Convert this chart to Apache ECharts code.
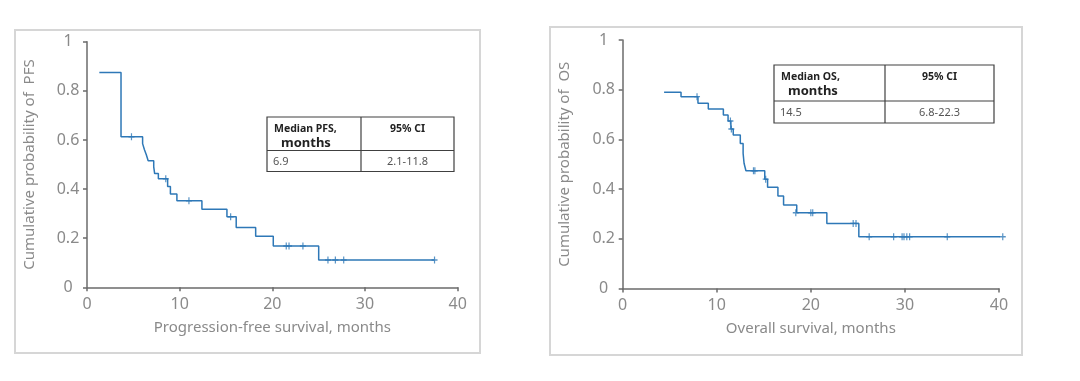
<!DOCTYPE html>
<html>
<head>
<meta charset="utf-8">
<script src="https://cdn.jsdelivr.net/npm/echarts@6/dist/echarts.min.js"></script>
<style>
html,body{margin:0;padding:0;background:#fff;}
#c{width:1080px;height:381px;}
</style>
</head>
<body>
<div id="c"></div>
<script>
// ---- Data ----
const pfsTimes = [1.33, 3.67, 6.0, 6.2, 6.4, 6.6, 7.2, 7.3, 7.7, 8.7, 9.0, 9.7, 12.4, 15.1, 16.1, 18.2, 20.1, 25.0, 37.5];
const pfsSurv  = [0.875, 0.613, 0.585, 0.56, 0.54, 0.515, 0.49, 0.463, 0.442, 0.41, 0.38, 0.352, 0.318, 0.287, 0.243, 0.208, 0.168, 0.111, 0.111];
const pfsCensorTimes = [4.8, 8.5, 11.0, 15.5, 21.5, 21.8, 23.3, 26.0, 26.8, 27.7, 37.5];
const pfsCensorSurv  = [0.613, 0.442, 0.352, 0.287, 0.168, 0.168, 0.168, 0.111, 0.111, 0.111, 0.111];

const osTimes = [4.4, 6.2, 8.0, 9.1, 10.7, 11.2, 11.5, 11.75, 12.5, 12.8, 12.9, 13.1, 15.1, 15.4, 16.5, 17.1, 18.5, 21.7, 25.1, 40.4];
const osSurv  = [0.79, 0.772, 0.745, 0.722, 0.698, 0.674, 0.642, 0.618, 0.584, 0.544, 0.504, 0.474, 0.44, 0.407, 0.372, 0.336, 0.305, 0.262, 0.208, 0.208];
const osCensorTimes = [7.9, 11.45, 11.55, 13.9, 14.05, 15.2, 18.4, 20.0, 20.2, 24.5, 24.8, 26.2, 28.8, 29.7, 29.9, 30.2, 30.5, 34.5, 40.4];
const osCensorSurv  = [0.772, 0.674, 0.642, 0.474, 0.474, 0.44, 0.305, 0.305, 0.305, 0.262, 0.262, 0.208, 0.208, 0.208, 0.208, 0.208, 0.208, 0.208, 0.208];

const xAxisTitles = ['Progression-free survival, months', 'Overall survival, months'];
const yAxisTitles = ['Cumulative probability of  PFS', 'Cumulative probability of  OS'];
const pfsTable = {h1: 'Median PFS,', h1b: 'months', h2: '95% CI', v1: '6.9', v2: '2.1-11.8'};
const osTable  = {h1: 'Median OS,', h1b: 'months', h2: '95% CI', v1: '14.5', v2: '6.8-22.3'};

// ---- Styling ----
const FONT = '"Noto Sans", "DejaVu Sans", sans-serif';
const BLUE = '#2E78B7';
const AXIS = '#6b6b6b';
const LABEL = '#8a8a8a';
const plus = 'path://M4,0 L6,0 L6,4 L10,4 L10,6 L6,6 L6,10 L4,10 L4,6 L0,6 L0,4 L4,4 Z';

function zip(a, b) { return a.map((v, i) => [v, b[i]]); }

function xAxis(idx, name) {
  return {
    type: 'value', gridIndex: idx, min: 0, max: 40, interval: 10,
    name: name, nameLocation: 'middle', nameGap: 33,
    nameTextStyle: {color: LABEL, fontSize: 15, fontFamily: FONT},
    axisLine: {show: true, onZero: false, lineStyle: {color: AXIS, width: 1.5}},
    axisTick: {show: true, inside: false, length: 4, lineStyle: {color: AXIS, width: 1.5}},
    axisLabel: {color: LABEL, fontSize: 16, fontFamily: FONT, margin: 9},
    splitLine: {show: false}
  };
}
function yAxis(idx, name) {
  return {
    type: 'value', gridIndex: idx, min: 0, max: 1, interval: 0.2,
    name: name, nameLocation: 'middle', nameGap: 50, nameRotate: 90,
    nameTextStyle: {color: LABEL, fontSize: 15, fontFamily: FONT},
    axisLine: {show: true, onZero: false, lineStyle: {color: AXIS, width: 1.5}},
    axisTick: {show: true, inside: false, length: 4, lineStyle: {color: AXIS, width: 1.5}},
    axisLabel: {color: LABEL, fontSize: 16, fontFamily: FONT, margin: 19, align: 'center'},
    splitLine: {show: false}
  };
}

function table(t, x0, x1, xd, y0, yh, y1) {
  const ls = {stroke: '#404040', lineWidth: 1.2};
  const els = [
    {type: 'rect', shape: {x: x0, y: y0, width: x1 - x0, height: y1 - y0}, style: {fill: '#fff', stroke: '#404040', lineWidth: 1.2}},
    {type: 'line', shape: {x1: x0, y1: yh, x2: x1, y2: yh}, style: ls},
    {type: 'line', shape: {x1: xd, y1: y0, x2: xd, y2: y1}, style: ls},
    {type: 'text', x: x0 + 7, y: y0 + 12.5, style: {text: t.h1, font: 'bold 10.5px ' + FONT, fill: '#222', verticalAlign: 'middle'}},
    {type: 'text', x: x0 + 14, y: y0 + 26.5, style: {text: t.h1b, font: 'bold 13px ' + FONT, fill: '#222', verticalAlign: 'middle'}},
    {type: 'text', x: (xd + x1) / 2, y: y0 + 12, style: {text: t.h2, font: 'bold 10.5px ' + FONT, fill: '#222', align: 'center', verticalAlign: 'middle'}},
    {type: 'text', x: x0 + 6, y: (yh + y1) / 2 + 1, style: {text: t.v1, font: '11px ' + FONT, fill: '#555', verticalAlign: 'middle'}},
    {type: 'text', x: (xd + x1) / 2, y: (yh + y1) / 2 + 1, style: {text: t.v2, font: '11px ' + FONT, fill: '#555', align: 'center', verticalAlign: 'middle'}}
  ];
  return els;
}

const chart = echarts.init(document.getElementById('c'), null, {renderer: 'canvas'});
chart.setOption({
  backgroundColor: '#fff',
  animation: false,
  grid: [
    {left: 87, top: 41.7, width: 370.7, height: 245.6},
    {left: 622.7, top: 40, width: 376.3, height: 248.5}
  ],
  xAxis: [xAxis(0, xAxisTitles[0]), xAxis(1, xAxisTitles[1])],
  yAxis: [yAxis(0, yAxisTitles[0]), yAxis(1, yAxisTitles[1])],
  series: [
    {type: 'line', xAxisIndex: 0, yAxisIndex: 0, step: 'end', data: zip(pfsTimes, pfsSurv),
     showSymbol: false, clip: false, lineStyle: {color: BLUE, width: 1.5}, z: 3},
    {type: 'scatter', xAxisIndex: 0, yAxisIndex: 0, data: zip(pfsCensorTimes, pfsCensorSurv),
     symbol: plus, symbolSize: [6, 7], itemStyle: {color: BLUE}, clip: false, z: 4},
    {type: 'line', xAxisIndex: 1, yAxisIndex: 1, step: 'end', data: zip(osTimes, osSurv),
     showSymbol: false, clip: false, lineStyle: {color: BLUE, width: 1.5}, z: 3},
    {type: 'scatter', xAxisIndex: 1, yAxisIndex: 1, data: zip(osCensorTimes, osCensorSurv),
     symbol: plus, symbolSize: [6, 7], itemStyle: {color: BLUE}, clip: false, z: 4}
  ],
  graphic: [
    {type: 'rect', shape: {x: 15, y: 30, width: 465, height: 323}, style: {fill: 'none', stroke: '#d6d6d6', lineWidth: 2}, z: -10},
    {type: 'rect', shape: {x: 550, y: 27, width: 472, height: 328}, style: {fill: 'none', stroke: '#d6d6d6', lineWidth: 2}, z: -10}
  ].concat(table(pfsTable, 267, 454, 361, 117, 150.5, 171.5))
   .concat(table(osTable, 774, 994, 885, 65, 101, 123))
});
</script>
</body>
</html>
